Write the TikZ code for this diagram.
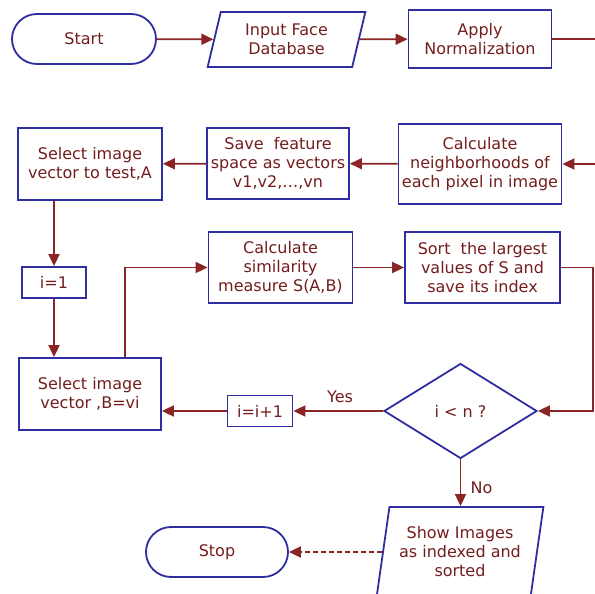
\documentclass[tikz,border=0pt]{standalone}
\usepackage{fontspec}
\setmainfont{DejaVu Sans}
\usetikzlibrary{shapes.geometric,arrows.meta}
\definecolor{flowline}{HTML}{8B2525}
\definecolor{flowborder}{HTML}{2E2EA0}
\definecolor{flowtext}{HTML}{731D1D}
\newcommand\flowfont{\fontsize{16}{19}\selectfont}
\tikzset{
  box/.style={draw=flowborder, line width=1.8pt, text=flowtext, align=center,
              inner sep=0pt, font=\flowfont},
  proc/.style 2 args={box, rectangle, minimum width=#1, minimum height=#2},
  term/.style 2 args={box, rectangle, rounded corners=#2/2, minimum width=#1, minimum height=#2},
  io/.style 2 args={box, trapezium, trapezium left angle=75, trapezium right angle=105,
              trapezium stretches=true, minimum width=#1, minimum height=#2},
  decision/.style={box, diamond, minimum width=153pt, minimum height=95pt},
  link/.style={draw=flowline, line width=1.8pt},
  arr/.style={link, -{Triangle[length=12pt,width=11pt]}},
  lbl/.style={text=flowtext, font=\flowfont}
}
\begin{document}
\begin{tikzpicture}[x=1pt,y=-1pt]
\useasboundingbox (0,0) rectangle (595,594);
\clip (0,0) rectangle (595,594);

% first row
\node[term={144pt}{50pt}] (start) at (84,39) {Start};
\node[io={159pt}{55pt}] (input) at (286.5,39.5) {Input Face\\Database};
\node[proc={143pt}{58pt}] (norm) at (480,39) {Apply\\Normalization};

% second row
\node[proc={163pt}{80pt}] (neigh) at (480,164) {Calculate\\neighborhoods of\\each pixel in image};
\node[proc={142pt}{71pt}] (save) at (278,163.5) {Save \ feature\\space as vectors\\v1,v2,\dots,vn};
\node[proc={144pt}{72pt}] (selA) at (90,164) {Select image\\vector to test,A};

% loop
\node[proc={64pt}{31pt}] (ione) at (54,282.5) {i=1};
\node[proc={142pt}{72pt}] (selB) at (90,394) {Select image\\vector ,B=vi};
\node[proc={144pt}{71pt}] (sim) at (280.5,267.5) {Calculate\\similarity\\measure S(A,B)};
\node[proc={155pt}{71pt}] (sort) at (482.5,267.5) {Sort \ the largest\\values of S and\\save its index};
\node[decision] (dec) at (460.5,411) {i < n ?};
\node[proc={65pt}{31pt}] (inc) at (260,411) {i=i+1};

% output
\node[io={167pt}{90pt}, trapezium left angle=77.6, trapezium right angle=102.4] (show) at (460,552) {Show Images\\as indexed and\\sorted};
\node[term={142pt}{50pt}] (stop) at (217,552) {Stop};

% free ends of the wrap-around line and the branch point
\coordinate (wrapA) at (600,39);
\coordinate (wrapB) at (600,164);
\coordinate (upB) at ([xshift=35pt]selB.north);

% connectors
\draw[arr] (start) -- (input);
\draw[arr] (input) -- (norm);
\draw[link] (norm.east) -- (wrapA);
\draw[arr] (wrapB) -- (neigh.east);
\draw[arr] (neigh) -- (save);
\draw[arr] (save) -- (selA);
\draw[arr] (ione |- selA.south) -- (ione.north);
\draw[arr] (ione.south) -- (ione |- selB.north);
\draw[arr] (upB) |- (sim.west);
\draw[arr] (sim) -- (sort);
\draw[arr] (sort.east) -- ++(32,0) |- (dec.east);
\draw[arr] (dec.west) -- node[lbl, above=4pt, pos=0.48] (yes) {Yes} (inc.east);
\draw[arr] (inc.west) -- (inc.west -| selB.east);
\draw[arr] (dec.south) -- node[lbl, right=6pt, pos=0.6] (no) {No} (dec.south |- show.north);
\draw[arr, dash pattern=on 5pt off 3pt] (show.west) -- (stop.east);
\end{tikzpicture}
\end{document}
